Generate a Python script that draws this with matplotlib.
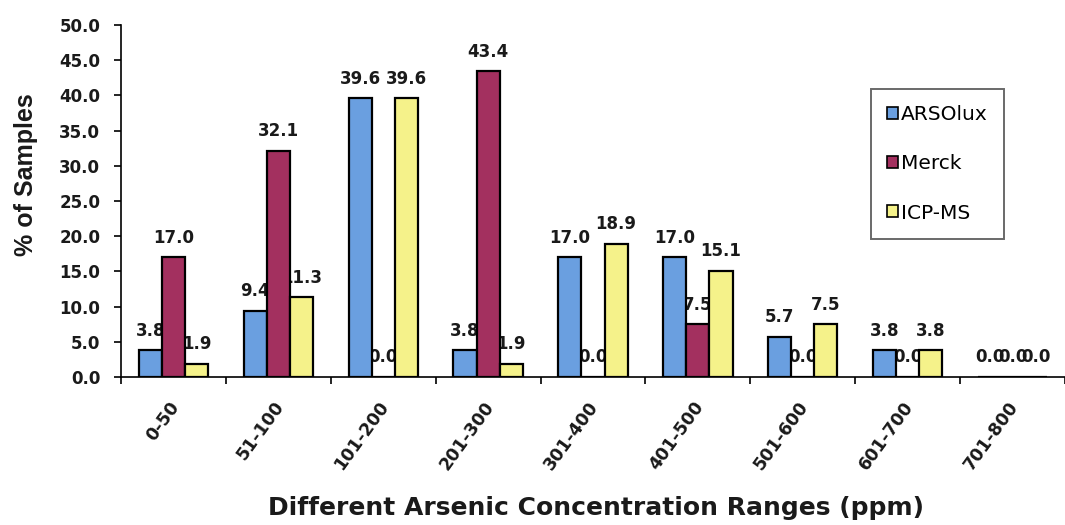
import numpy as np
import matplotlib
matplotlib.use("Agg")
import matplotlib.pyplot as plt
from matplotlib.patches import Patch

plt.rcParams['font.family'] = ['DejaVu Sans']

ranges = ["0-50", "51-100", "101-200", "201-300", "301-400",
          "401-500", "501-600", "601-700", "701-800"]
series_names = ["ARSOlux", "Merck", "ICP-MS"]
arsolux = [3.8, 9.4, 39.6, 3.8, 17.0, 17.0, 5.7, 3.8, 0.0]
merck = [17.0, 32.1, 0.0, 43.4, 0.0, 7.5, 0.0, 0.0, 0.0]
icpms = [1.9, 11.3, 39.6, 1.9, 18.9, 15.1, 7.5, 3.8, 0.0]
colors = ["#6a9fe0", "#a3305f", "#f5f28a"]

fig = plt.figure(figsize=(10.65, 5.25), dpi=100)
ax = fig.add_axes([121 / 1065, 1 - 377 / 525, (1065 - 121) / 1065, 352 / 525])

x = np.arange(len(ranges))
width = 0.22
offsets = [-width, 0.0, width]
for vals, off, col, name in zip([arsolux, merck, icpms], offsets, colors, series_names):
    ax.bar(x + off, vals, width, color=col, edgecolor="black",
           linewidth=1.6, zorder=3, label=name)
    # value labels sit beneath the bars, so neighbouring bars may cover them
    for xi, v in zip(x + off, vals):
        ax.text(xi, v + 1.5, f"{v:.1f}", ha="center", va="bottom",
                fontsize=12, fontweight="bold", color="#1a1a1a", zorder=2)

ax.set_ylim(0, 50)
yt = np.arange(0, 50.1, 5)
ax.set_yticks(yt)
ax.set_yticklabels([f"{t:.1f}" for t in yt], fontsize=12,
                   fontweight="bold", color="#1a1a1a")
ax.set_xlim(-0.5, -0.5 + (1065 - 121) / 105.4)
ax.set_xticks(np.arange(len(ranges) + 1) - 0.5)
ax.set_xticklabels([])
ax.tick_params(axis="x", direction="out", length=5, width=1.2)
ax.tick_params(axis="y", direction="out", length=5, width=1.2, pad=10)
for xi, lab in zip(x, ranges):
    ax.text(xi - 0.05, -3.0, lab, rotation=54, ha="right", va="top",
            rotation_mode="anchor", fontsize=12.5, fontweight="bold",
            color="#1a1a1a")

for s in ["top", "right"]:
    ax.spines[s].set_visible(False)
ax.spines["left"].set_linewidth(1.2)
ax.spines["bottom"].set_linewidth(1.2)

fig.text(26 / 1065, 1 - 175 / 525, "% of Samples", rotation=90,
         ha="center", va="center", fontsize=18, fontweight="bold",
         family="Liberation Sans", color="#1a1a1a")
fig.text(596 / 1065, 1 - 508 / 525, "Different Arsenic Concentration Ranges (ppm)",
         ha="center", va="center", fontsize=18, fontweight="bold",
         color="#1a1a1a")

handles = [Patch(facecolor=c, edgecolor="black", linewidth=1.2) for c in colors]
leg = ax.legend(handles, series_names, loc="upper left",
                bbox_to_anchor=((871 - 121) / 944, (377 - 89) / 352),
                fontsize=14.5, frameon=True, fancybox=False, edgecolor="#444444",
                handlelength=0.55, handleheight=0.55, handletextpad=0.15,
                labelspacing=1.5, borderpad=0.8, borderaxespad=0)
leg.get_frame().set_linewidth(1.4)

fig.savefig("out.png", dpi=100)
